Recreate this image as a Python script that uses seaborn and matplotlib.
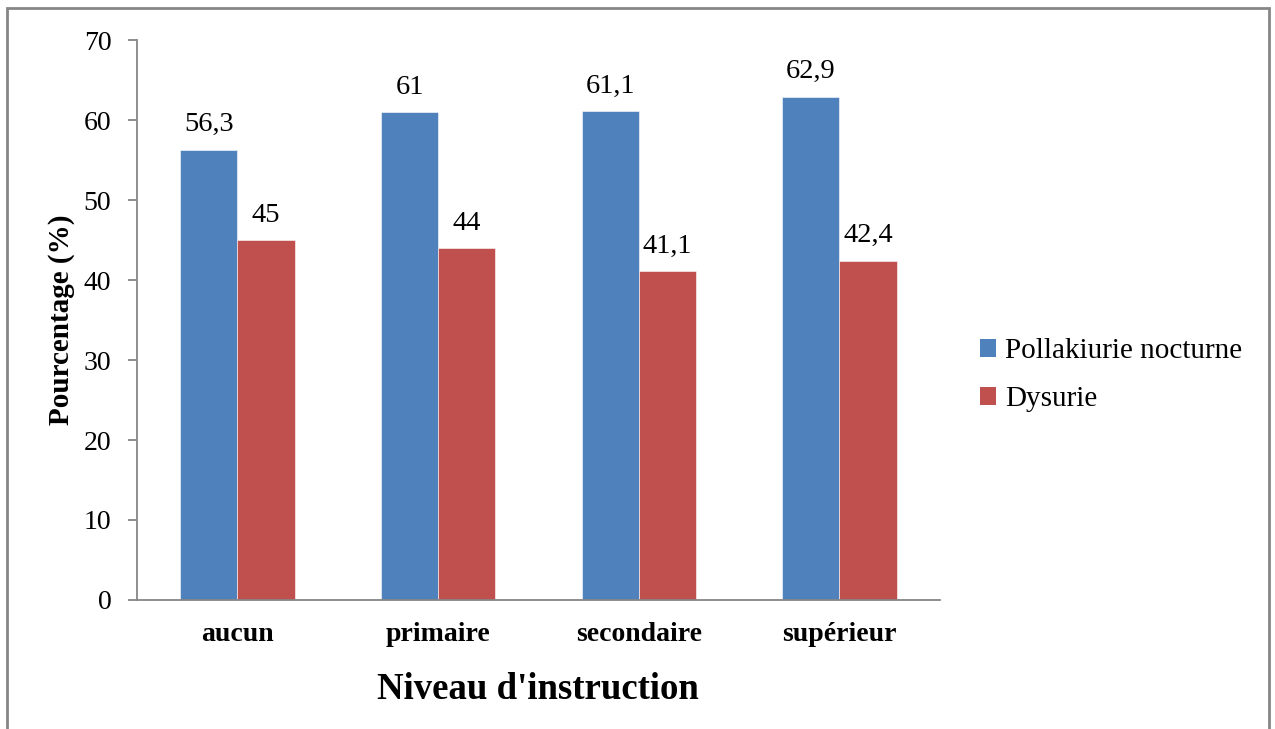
import matplotlib
matplotlib.use("Agg")
import matplotlib.pyplot as plt
import seaborn as sns
import pandas as pd
from matplotlib.patches import Rectangle

categories = ["aucun", "primaire", "secondaire", "supérieur"]
series_names = ["Pollakiurie nocturne", "Dysurie"]
pollakiurie = [56.3, 61, 61.1, 62.9]
dysurie = [45, 44, 41.1, 42.4]
value_labels = {
    "Pollakiurie nocturne": ["56,3", "61", "61,1", "62,9"],
    "Dysurie": ["45", "44", "41,1", "42,4"],
}
colors = ["#4F81BD", "#C0504D"]

df = pd.DataFrame({
    "niveau": categories * 2,
    "serie": [series_names[0]] * 4 + [series_names[1]] * 4,
    "valeur": pollakiurie + dysurie,
})

sns.set_theme(style="white")
plt.rcParams["font.family"] = ["Liberation Serif", "DejaVu Serif"]
plt.rcParams["text.color"] = "black"
plt.rcParams["axes.labelcolor"] = "black"
plt.rcParams["xtick.color"] = "black"
plt.rcParams["ytick.color"] = "black"

fig = plt.figure(figsize=(12.75, 7.29), dpi=100)
ax = fig.add_axes([0.1075, 0.177, 0.6295, 0.768])

sns.barplot(data=df, x="niveau", y="valeur", hue="serie", order=categories,
            hue_order=series_names, palette=colors, width=0.57, ax=ax,
            edgecolor="white", linewidth=0.4, saturation=1, errorbar=None,
            legend=False)

for container, name in zip(ax.containers, series_names):
    ax.bar_label(container, labels=value_labels[name], padding=9, fontsize=20.5,
                 color="black")

ax.set_ylim(0, 70)
ax.set_yticks(range(0, 71, 10))
ax.set_xlim(-0.5, 3.5)
ax.set_xlabel("Niveau d'instruction", fontsize=26.5, fontweight="bold", labelpad=18)
ax.set_ylabel("Pourcentage (%)", fontsize=21, fontweight="bold")
ax.yaxis.set_label_coords(-0.077, 0.5)

for side in ["top", "right"]:
    ax.spines[side].set_visible(False)
for side in ["left", "bottom"]:
    ax.spines[side].set_color("#868686")
    ax.spines[side].set_linewidth(1.3)

ax.tick_params(axis="y", direction="out", length=6.5, width=1.3, color="#868686",
               labelcolor="black", labelsize=20, pad=12, left=True)
ax.tick_params(axis="x", length=0, labelsize=20, pad=16)
for lbl in ax.get_xticklabels():
    lbl.set_fontweight("bold")

handles = [Rectangle((0, 0), 1, 1, facecolor=c, edgecolor="none") for c in colors]
fig.legend(handles, series_names, loc="center left", bbox_to_anchor=(0.748, 0.485),
           frameon=False, fontsize=21, handlelength=0.55, handleheight=0.55,
           handletextpad=0.3, labelspacing=0.75)

# outer frame of the chart area
fig.add_artist(Rectangle((0.0055, -0.01), 0.99, 0.999, transform=fig.transFigure,
                         fill=False, edgecolor="#868686", linewidth=2))

fig.savefig("out.png", dpi=100, facecolor="white")
